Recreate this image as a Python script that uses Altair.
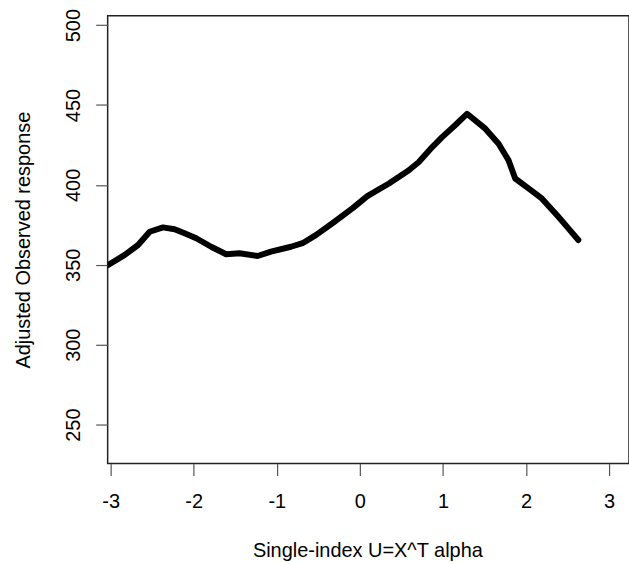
import altair as alt
import pandas as pd

u_values = [-3.03, -2.83, -2.67, -2.53, -2.37, -2.23, -2.11, -1.97, -1.79, -1.61,
            -1.45, -1.23, -1.07, -0.83, -0.69, -0.53, -0.33, -0.09, 0.09, 0.35,
            0.59, 0.71, 0.85, 0.99, 1.15, 1.29, 1.51, 1.67, 1.79, 1.87,
            2.03, 2.19, 2.39, 2.51, 2.63]
response = [349.9, 356.2, 362.4, 370.7, 373.4, 372.2, 369.7, 366.6, 361.3, 356.6,
            357.2, 355.5, 358.2, 361.3, 363.5, 368.6, 376.0, 385.3, 393.0, 400.9,
            409.2, 414.3, 422.5, 429.9, 437.5, 444.5, 435.2, 425.8, 415.4, 404.0,
            397.8, 391.5, 380.0, 372.8, 365.5]
x_ticks = [-3, -2, -1, 0, 1, 2, 3]
y_ticks = [250, 300, 350, 400, 450, 500]

df = pd.DataFrame({"u": u_values, "r": response})

FONT = "Liberation Sans"

chart = alt.Chart(df).mark_line(
    color="black", strokeWidth=6, strokeCap="round", strokeJoin="round",
    interpolate="linear", clip=True
).encode(
    x=alt.X("u:Q",
            scale=alt.Scale(domain=[-3.036, 3.24], nice=False, zero=False),
            axis=alt.Axis(values=x_ticks, title="Single-index U=X^T alpha",
                          labelExpr="datum.value + ''",
                          domain=False, grid=False, tickSize=12, tickColor="#555",
                          tickWidth=1.2, labelFontSize=20, labelFont=FONT,
                          labelColor="black", labelPadding=16, labelBaseline="top",
                          labelFlush=False, labelOverlap=False,
                          titleFont=FONT, titleFontSize=20, titleFontWeight="normal",
                          titleColor="black", titleBaseline="alphabetic",
                          titleAlign="center", titleX=260.5, titleY=93)),
    y=alt.Y("r:Q",
            scale=alt.Scale(domain=[225.7, 505.8], nice=False, zero=False),
            axis=alt.Axis(values=y_ticks, title="Adjusted Observed response",
                          labelExpr="datum.value + ''",
                          domain=False, grid=False, tickSize=12, tickColor="#555",
                          tickWidth=1.2, labelFontSize=20, labelFont=FONT,
                          labelColor="black", labelAngle=270, labelAlign="center",
                          labelBaseline="alphabetic", labelPadding=16,
                          labelFlush=False, labelOverlap=False,
                          titleFont=FONT, titleFontSize=20, titleFontWeight="normal",
                          titleColor="black", titleAngle=270, titleAlign="center",
                          titleBaseline="alphabetic", titleX=-78, titleY=224.5)),
).properties(
    width=523, height=449,
    autosize=alt.AutoSizeParams(type="none"),
    padding={"left": 108, "top": 15, "right": 0, "bottom": 98},
).configure(
    background="white",
    view=alt.ViewConfig(stroke="#222", strokeWidth=1.5),
)

chart.save("out.html", embed_options={"renderer": "svg", "actions": False})
